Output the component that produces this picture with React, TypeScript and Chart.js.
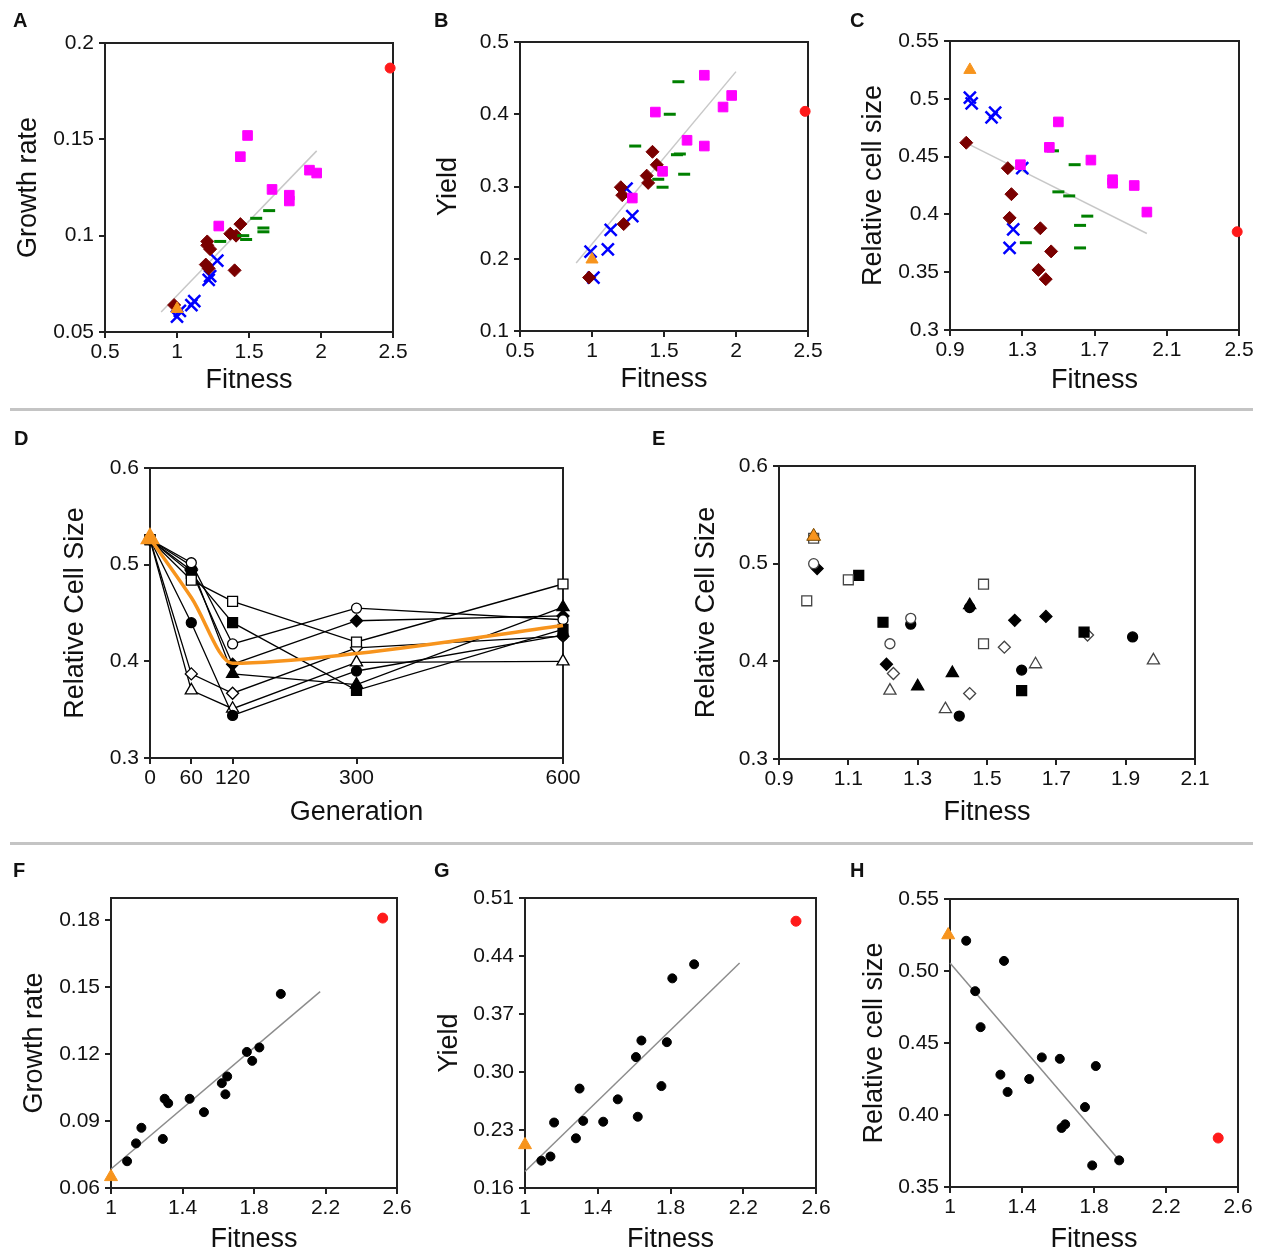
import React, { useEffect, useRef } from "react";
import { Chart, registerables } from "chart.js";
Chart.register(...registerables);

const FONT = "'Liberation Sans', Arial, Helvetica, sans-serif";
type Pt = [number, number];

// ---------- Panel A: Growth rate vs Fitness ----------
const A_RED: Pt[] = [[2.48, 0.187]];
const A_ORANGE: Pt[] = [[1.0, 0.062]];
const A_MAGENTA: Pt[] = [[1.49, 0.152], [1.44, 0.141], [1.92, 0.134], [1.97, 0.1325], [1.66, 0.124], [1.78, 0.121], [1.78, 0.118], [1.29, 0.105]];
const A_DARKRED: Pt[] = [[0.98, 0.064], [1.21, 0.097], [1.23, 0.093], [1.2, 0.085], [1.22, 0.083], [1.37, 0.101], [1.41, 0.1], [1.44, 0.106], [1.4, 0.082], [1.21, 0.095]];
const A_GREEN: Pt[] = [[1.3, 0.097], [1.46, 0.1], [1.48, 0.098], [1.55, 0.109], [1.64, 0.113], [1.6, 0.104], [1.6, 0.102]];
const A_BLUE: Pt[] = [[1.0, 0.058], [1.02, 0.061], [1.1, 0.064], [1.12, 0.066], [1.22, 0.077], [1.23, 0.079], [1.28, 0.087]];
const A_FIT: Pt[] = [[0.89, 0.0604], [1.97, 0.144]];
const A_X_TICKS = [0.5, 1, 1.5, 2, 2.5];
const A_Y_TICKS = [0.05, 0.1, 0.15, 0.2];

// ---------- Panel B: Yield vs Fitness ----------
const B_RED: Pt[] = [[2.48, 0.404]];
const B_ORANGE: Pt[] = [[1.0, 0.199]];
const B_MAGENTA: Pt[] = [[1.78, 0.454], [1.97, 0.426], [1.91, 0.41], [1.44, 0.403], [1.66, 0.364], [1.78, 0.356], [1.49, 0.321], [1.28, 0.284]];
const B_GREEN: Pt[] = [[1.6, 0.445], [1.54, 0.4], [1.3, 0.356], [1.59, 0.344], [1.61, 0.345], [1.64, 0.317], [1.46, 0.31], [1.49, 0.299]];
const B_DARKRED: Pt[] = [[1.42, 0.348], [1.45, 0.33], [1.38, 0.315], [1.39, 0.305], [1.2, 0.299], [1.21, 0.288], [1.22, 0.248], [0.98, 0.174]];
const B_BLUE: Pt[] = [[1.24, 0.297], [1.28, 0.259], [1.13, 0.24], [1.11, 0.213], [0.99, 0.21], [1.01, 0.174]];
const B_FIT: Pt[] = [[0.89, 0.194], [2.0, 0.459]];
const B_X_TICKS = [0.5, 1, 1.5, 2, 2.5];
const B_Y_TICKS = [0.1, 0.2, 0.3, 0.4, 0.5];

// ---------- Panel C: Relative cell size vs Fitness ----------
const C_RED: Pt[] = [[2.49, 0.385]];
const C_ORANGE: Pt[] = [[1.01, 0.525]];
const C_BLUE: Pt[] = [[1.01, 0.501], [1.02, 0.496], [1.15, 0.488], [1.13, 0.484], [1.3, 0.44], [1.25, 0.387], [1.23, 0.371]];
const C_DARKRED: Pt[] = [[0.99, 0.462], [1.22, 0.44], [1.24, 0.4175], [1.23, 0.397], [1.4, 0.388], [1.46, 0.368], [1.39, 0.352], [1.43, 0.344]];
const C_MAGENTA: Pt[] = [[1.5, 0.48], [1.45, 0.458], [1.29, 0.443], [1.68, 0.447], [1.8, 0.43], [1.8, 0.427], [1.92, 0.425], [1.99, 0.402]];
const C_GREEN: Pt[] = [[1.47, 0.455], [1.59, 0.443], [1.5, 0.4195], [1.56, 0.416], [1.66, 0.3985], [1.62, 0.3905], [1.32, 0.3755], [1.62, 0.371]];
const C_FIT: Pt[] = [[1.0, 0.461], [1.99, 0.3835]];
const C_X_TICKS = [0.9, 1.3, 1.7, 2.1, 2.5];
const C_Y_TICKS = [0.3, 0.35, 0.4, 0.45, 0.5, 0.55];

// ---------- Panel D: Relative Cell Size vs Generation ----------
const GENERATIONS = [0, 60, 120, 300, 600];
const D_OPEN_SQUARE = [0.526, 0.484, 0.462, 0.42, 0.48];
const D_FILLED_SQUARE = [0.526, 0.491, 0.44, 0.37, 0.433];
const D_OPEN_CIRCLE = [0.526, 0.502, 0.418, 0.455, 0.443];
const D_FILLED_CIRCLE = [0.526, 0.44, 0.344, 0.39, 0.427];
const D_OPEN_DIAMOND = [0.526, 0.387, 0.367, 0.414, 0.426];
const D_FILLED_DIAMOND = [0.526, 0.494, 0.397, 0.442, 0.447];
const D_OPEN_TRIANGLE = [0.526, 0.37, 0.351, 0.399, 0.4];
const D_FILLED_TRIANGLE = [0.526, 0.499, 0.387, 0.376, 0.456];
const D_ORANGE = [0.527, 0.466, 0.398, 0.408, 0.437];
const D_X_TICKS = [0, 60, 120, 300, 600];
const D_Y_TICKS = [0.3, 0.4, 0.5, 0.6];

// ---------- Panel E: Relative Cell Size vs Fitness ----------
const E_OPEN_SQUARE: Pt[] = [[1.0, 0.526], [0.98, 0.462], [1.1, 0.4835], [1.49, 0.479], [1.49, 0.418]];
const E_FILLED_SQUARE: Pt[] = [[1.13, 0.488], [1.2, 0.44], [1.78, 0.43], [1.6, 0.37]];
const E_OPEN_CIRCLE: Pt[] = [[1.0, 0.5], [1.28, 0.444], [1.22, 0.418]];
const E_FILLED_CIRCLE: Pt[] = [[1.28, 0.438], [1.45, 0.455], [1.92, 0.425], [1.6, 0.391], [1.42, 0.344]];
const E_OPEN_DIAMOND: Pt[] = [[1.79, 0.427], [1.55, 0.4145], [1.23, 0.3875], [1.45, 0.367]];
const E_FILLED_DIAMOND: Pt[] = [[1.01, 0.495], [1.58, 0.442], [1.67, 0.446], [1.21, 0.397]];
const E_OPEN_TRIANGLE: Pt[] = [[1.22, 0.37], [1.38, 0.351], [1.64, 0.397], [1.98, 0.401]];
const E_FILLED_TRIANGLE: Pt[] = [[1.45, 0.4575], [1.3, 0.3745], [1.4, 0.388]];
const E_ORANGE: Pt[] = [[1.0, 0.528]];
const E_X_TICKS = [0.9, 1.1, 1.3, 1.5, 1.7, 1.9, 2.1];
const E_Y_TICKS = [0.3, 0.4, 0.5, 0.6];

// ---------- Panel F ----------
const F_RED: Pt[] = [[2.52, 0.181]];
const F_ORANGE: Pt[] = [[1.0, 0.065]];
const F_POINTS: Pt[] = [[1.09, 0.072], [1.14, 0.08], [1.17, 0.087], [1.29, 0.082], [1.3, 0.1], [1.32, 0.098], [1.44, 0.1], [1.52, 0.094], [1.62, 0.107], [1.64, 0.102], [1.65, 0.11], [1.76, 0.121], [1.79, 0.117], [1.83, 0.123], [1.95, 0.147]];
const F_FIT: Pt[] = [[1.0, 0.0685], [2.17, 0.148]];
const F_X_TICKS = [1, 1.4, 1.8, 2.2, 2.6];
const F_Y_TICKS = [0.06, 0.09, 0.12, 0.15, 0.18];

// ---------- Panel G ----------
const G_RED: Pt[] = [[2.49, 0.482]];
const G_ORANGE: Pt[] = [[1.0, 0.212]];
const G_POINTS: Pt[] = [[1.09, 0.193], [1.14, 0.198], [1.16, 0.239], [1.28, 0.22], [1.3, 0.28], [1.32, 0.241], [1.43, 0.24], [1.51, 0.267], [1.61, 0.318], [1.62, 0.246], [1.64, 0.338], [1.75, 0.283], [1.78, 0.336], [1.81, 0.413], [1.93, 0.43]];
const G_FIT: Pt[] = [[1.0, 0.18], [2.18, 0.4315]];
const G_X_TICKS = [1, 1.4, 1.8, 2.2, 2.6];
const G_Y_TICKS = [0.16, 0.23, 0.3, 0.37, 0.44, 0.51];

// ---------- Panel H ----------
const H_RED: Pt[] = [[2.49, 0.384]];
const H_ORANGE: Pt[] = [[0.99, 0.525]];
const H_POINTS: Pt[] = [[1.09, 0.521], [1.3, 0.507], [1.14, 0.486], [1.17, 0.461], [1.51, 0.44], [1.61, 0.439], [1.81, 0.434], [1.28, 0.428], [1.44, 0.425], [1.32, 0.416], [1.75, 0.4055], [1.64, 0.3935], [1.62, 0.391], [1.79, 0.365], [1.94, 0.3685]];
const H_FIT: Pt[] = [[1.0, 0.5056], [1.94, 0.3685]];
const H_X_TICKS = [1, 1.4, 1.8, 2.2, 2.6];
const H_Y_TICKS = [0.35, 0.4, 0.45, 0.5, 0.55];

// ---------- colours ----------
const RED = "#ff1a1a";
const ORANGE = "#f7941d";
const MAGENTA = "#ff00ff";
const DARKRED = "#7a0000";
const GREEN = "#008000";
const BLUE = "#0000ff";
const INK = "#111111";
const AXIS = "#222222";

interface Geo { left: number; top: number; width: number; height: number; pl: number; pt: number; pr: number; pb: number; yTitlePad: number; xTitlePad: number; }
interface AxisSpec { min: number; max: number; ticks: number[]; dec?: number; title: string; }

const toXY = (a: Pt[]) => a.map(([x, y]) => ({ x, y }));

const framePlugin = {
  id: "frame",
  beforeDatasetsDraw(chart: any) {
    const { ctx, chartArea } = chart;
    const { left, top, right, bottom } = chartArea;
    ctx.save();
    ctx.strokeStyle = AXIS;
    ctx.lineWidth = 2;
    ctx.strokeRect(left, top, right - left, bottom - top);
    ctx.restore();
  },
};

function scale(spec: AxisSpec, isX: boolean, geo: Geo) {
  const size = isX ? geo.top + geo.height - geo.pb : geo.pl - geo.left;
  return {
    type: "linear",
    min: spec.min,
    max: spec.max,
    afterBuildTicks: (ax: any) => { ax.ticks = spec.ticks.map((v) => ({ value: v })); },
    afterFit: (ax: any) => {
      if (isX) ax.height = size; else ax.width = size;
      ax.paddingLeft = 0; ax.paddingRight = 0; ax.paddingTop = 0; ax.paddingBottom = 0;
    },
    ticks: {
      autoSkip: false,
      maxRotation: 0,
      padding: isX ? 2 : 5,
      color: INK,
      font: { family: FONT, size: 21, lineHeight: 1.2 },
      callback: (v: number) => (spec.dec === undefined ? String(v) : v.toFixed(spec.dec)),
    },
    grid: { drawOnChartArea: false, drawTicks: true, tickLength: 6, color: AXIS, lineWidth: 2 },
    border: { display: true, color: AXIS, width: 2 },
    title: {
      display: true,
      text: spec.title,
      color: INK,
      font: { family: FONT, size: 27, lineHeight: 1 },
      padding: isX ? { top: 0, bottom: geo.xTitlePad } : { top: geo.yTitlePad, bottom: 0 },
    },
  };
}

function options(geo: Geo, xs: AxisSpec, ys: AxisSpec) {
  return {
    responsive: false,
    animation: false,
    events: [],
    layout: { padding: { top: geo.pt - geo.top, right: geo.left + geo.width - geo.pr, left: 0, bottom: 0 } },
    plugins: { legend: { display: false }, tooltip: { enabled: false } },
    scales: { x: scale(xs, true, geo), y: scale(ys, false, geo) },
  };
}

function pts(data: Pt[], style: string, color: string, r: number, extra: any = {}) {
  return {
    data: toXY(data),
    pointStyle: style,
    pointRadius: r,
    pointHoverRadius: r,
    pointBackgroundColor: color,
    pointBorderColor: color,
    pointBorderWidth: 1,
    showLine: false,
    clip: false,
    ...extra,
  };
}

function fit(data: Pt[], color: string) {
  return { data: toXY(data), showLine: true, borderColor: color, borderWidth: 1.5, pointRadius: 0, fill: false, order: 10, clip: false };
}

function ChartBox({ geo, make }: { geo: Geo; make: () => any }) {
  const ref = useRef<HTMLCanvasElement>(null);
  useEffect(() => {
    const chart = new Chart(ref.current as HTMLCanvasElement, make());
    return () => chart.destroy();
  }, []);
  return (
    <canvas
      ref={ref}
      width={geo.width}
      height={geo.height}
      style={{ position: "absolute", left: geo.left, top: geo.top, width: geo.width, height: geo.height }}
    />
  );
}

function colouredScatter(geo: Geo, xs: AxisSpec, ys: AxisSpec, s: { red: Pt[]; orange: Pt[]; magenta: Pt[]; darkred: Pt[]; green: Pt[]; blue: Pt[]; fitLine: Pt[] }) {
  return () => ({
    type: "scatter",
    data: {
      datasets: [
        pts(s.red, "circle", RED, 5),
        pts(s.orange, "triangle", ORANGE, 7),
        pts(s.magenta, "rect", MAGENTA, 6.8),
        pts(s.green, "line", GREEN, 6, { pointBorderWidth: 3 }),
        pts(s.darkred, "rectRot", DARKRED, 6.5),
        pts(s.blue, "crossRot", BLUE, 8.5, { pointBorderWidth: 2.5 }),
        fit(s.fitLine, "#c8c8c8"),
      ],
    },
    options: options(geo, xs, ys),
    plugins: [framePlugin],
  });
}

function blackScatter(geo: Geo, xs: AxisSpec, ys: AxisSpec, s: { red: Pt[]; orange: Pt[]; points: Pt[]; fitLine: Pt[] }) {
  return () => ({
    type: "scatter",
    data: {
      datasets: [
        pts(s.red, "circle", RED, 5),
        pts(s.orange, "triangle", ORANGE, 7.5),
        pts(s.points, "circle", "#000000", 4.5),
        fit(s.fitLine, "#8c8c8c"),
      ],
    },
    options: options(geo, xs, ys),
    plugins: [framePlugin],
  });
}

const MARKERS: { style: string; filled: boolean; r: number }[] = [
  { style: "rect", filled: false, r: 7 },
  { style: "rect", filled: true, r: 7 },
  { style: "circle", filled: false, r: 5 },
  { style: "circle", filled: true, r: 5 },
  { style: "rectRot", filled: false, r: 6 },
  { style: "rectRot", filled: true, r: 6 },
  { style: "triangle", filled: false, r: 7 },
  { style: "triangle", filled: true, r: 7 },
];

function lineD(geo: Geo) {
  const series = [D_OPEN_SQUARE, D_FILLED_SQUARE, D_OPEN_CIRCLE, D_FILLED_CIRCLE, D_OPEN_DIAMOND, D_FILLED_DIAMOND, D_OPEN_TRIANGLE, D_FILLED_TRIANGLE];
  return () => ({
    type: "line",
    data: {
      datasets: [
        {
          data: GENERATIONS.map((g, i) => ({ x: g, y: D_ORANGE[i] })),
          borderColor: ORANGE,
          borderWidth: 3.5,
          cubicInterpolationMode: "monotone",
          pointStyle: "triangle",
          pointRadius: [8, 0, 0, 0, 0],
          pointBackgroundColor: ORANGE,
          pointBorderColor: ORANGE,
          order: -1,
          clip: false,
        },
        ...series.map((vals, k) => ({
          data: GENERATIONS.map((g, i) => ({ x: g, y: vals[i] })),
          borderColor: "#000000",
          borderWidth: 1.3,
          tension: 0,
          pointStyle: MARKERS[k].style,
          pointRadius: MARKERS[k].r,
          pointBackgroundColor: MARKERS[k].filled ? "#000000" : "#ffffff",
          pointBorderColor: "#000000",
          pointBorderWidth: 1.3,
          clip: false,
        })),
      ],
    },
    options: options(geo, { min: 0, max: 600, ticks: D_X_TICKS, title: "Generation" }, { min: 0.3, max: 0.6, ticks: D_Y_TICKS, title: "Relative Cell Size" }),
    plugins: [framePlugin],
  });
}

function scatterE(geo: Geo) {
  const series = [E_OPEN_SQUARE, E_FILLED_SQUARE, E_OPEN_CIRCLE, E_FILLED_CIRCLE, E_OPEN_DIAMOND, E_FILLED_DIAMOND, E_OPEN_TRIANGLE, E_FILLED_TRIANGLE];
  return () => ({
    type: "scatter",
    data: {
      datasets: [
        pts(E_ORANGE, "triangle", ORANGE, 8, { pointBorderColor: "#7a4a00", order: -1 }),
        ...series.map((s, k) =>
          pts(s, MARKERS[k].style, MARKERS[k].filled ? "#000000" : "#ffffff", MARKERS[k].r, {
            pointBorderColor: MARKERS[k].filled ? "#000000" : "#444444",
            pointBorderWidth: 1.3,
          })
        ),
      ],
    },
    options: options(geo, { min: 0.9, max: 2.1, ticks: E_X_TICKS, title: "Fitness" }, { min: 0.3, max: 0.6, ticks: E_Y_TICKS, title: "Relative Cell Size" }),
    plugins: [framePlugin],
  });
}

const GEO_A: Geo = { left: 0, top: 0, width: 415, height: 400, pl: 105, pt: 43, pr: 393, pb: 332, yTitlePad: 15, xTitlePad: 6 };
const GEO_B: Geo = { left: 415, top: 0, width: 415, height: 400, pl: 520, pt: 42, pr: 808, pb: 331, yTitlePad: 20, xTitlePad: 7 };
const GEO_C: Geo = { left: 830, top: 0, width: 435, height: 400, pl: 950, pt: 41, pr: 1239, pb: 330, yTitlePad: 30, xTitlePad: 6 };
const GEO_D: Geo = { left: 0, top: 410, width: 630, height: 430, pl: 150, pt: 468, pr: 563, pb: 758, yTitlePad: 62, xTitlePad: 14 };
const GEO_E: Geo = { left: 630, top: 410, width: 635, height: 430, pl: 779, pt: 466, pr: 1195, pb: 759, yTitlePad: 63, xTitlePad: 14 };
const GEO_F: Geo = { left: 0, top: 845, width: 415, height: 411, pl: 111, pt: 898, pr: 397, pb: 1188, yTitlePad: 21, xTitlePad: 3 };
const GEO_G: Geo = { left: 415, top: 845, width: 415, height: 411, pl: 525, pt: 898, pr: 816, pb: 1188, yTitlePad: 21, xTitlePad: 3 };
const GEO_H: Geo = { left: 830, top: 845, width: 435, height: 411, pl: 950, pt: 899, pr: 1238, pb: 1187, yTitlePad: 31, xTitlePad: 3 };

const LETTERS: { t: string; x: number; y: number }[] = [
  { t: "A", x: 13, y: 10 }, { t: "B", x: 434, y: 10 }, { t: "C", x: 850, y: 10 },
  { t: "D", x: 14, y: 428 }, { t: "E", x: 652, y: 428 },
  { t: "F", x: 13, y: 860 }, { t: "G", x: 434, y: 860 }, { t: "H", x: 850, y: 860 },
];

export default function App() {
  return (
    <div style={{ position: "absolute", left: 0, top: 0, width: 1265, height: 1256, background: "#fff", overflow: "hidden", fontFamily: FONT }}>
      <ChartBox geo={GEO_A} make={colouredScatter(GEO_A, { min: 0.5, max: 2.5, ticks: A_X_TICKS, title: "Fitness" }, { min: 0.05, max: 0.2, ticks: A_Y_TICKS, title: "Growth rate" }, { red: A_RED, orange: A_ORANGE, magenta: A_MAGENTA, darkred: A_DARKRED, green: A_GREEN, blue: A_BLUE, fitLine: A_FIT })} />
      <ChartBox geo={GEO_B} make={colouredScatter(GEO_B, { min: 0.5, max: 2.5, ticks: B_X_TICKS, title: "Fitness" }, { min: 0.1, max: 0.5, ticks: B_Y_TICKS, title: "Yield" }, { red: B_RED, orange: B_ORANGE, magenta: B_MAGENTA, darkred: B_DARKRED, green: B_GREEN, blue: B_BLUE, fitLine: B_FIT })} />
      <ChartBox geo={GEO_C} make={colouredScatter(GEO_C, { min: 0.9, max: 2.5, ticks: C_X_TICKS, title: "Fitness" }, { min: 0.3, max: 0.55, ticks: C_Y_TICKS, title: "Relative cell size" }, { red: C_RED, orange: C_ORANGE, magenta: C_MAGENTA, darkred: C_DARKRED, green: C_GREEN, blue: C_BLUE, fitLine: C_FIT })} />
      <ChartBox geo={GEO_D} make={lineD(GEO_D)} />
      <ChartBox geo={GEO_E} make={scatterE(GEO_E)} />
      <ChartBox geo={GEO_F} make={blackScatter(GEO_F, { min: 1, max: 2.6, ticks: F_X_TICKS, title: "Fitness" }, { min: 0.06, max: 0.19, ticks: F_Y_TICKS, dec: 2, title: "Growth rate" }, { red: F_RED, orange: F_ORANGE, points: F_POINTS, fitLine: F_FIT })} />
      <ChartBox geo={GEO_G} make={blackScatter(GEO_G, { min: 1, max: 2.6, ticks: G_X_TICKS, title: "Fitness" }, { min: 0.16, max: 0.51, ticks: G_Y_TICKS, dec: 2, title: "Yield" }, { red: G_RED, orange: G_ORANGE, points: G_POINTS, fitLine: G_FIT })} />
      <ChartBox geo={GEO_H} make={blackScatter(GEO_H, { min: 1, max: 2.6, ticks: H_X_TICKS, title: "Fitness" }, { min: 0.35, max: 0.55, ticks: H_Y_TICKS, dec: 2, title: "Relative cell size" }, { red: H_RED, orange: H_ORANGE, points: H_POINTS, fitLine: H_FIT })} />
      <div style={{ position: "absolute", left: 10, top: 408, width: 1243, height: 3, background: "#c4c4c4" }} />
      <div style={{ position: "absolute", left: 10, top: 842, width: 1243, height: 3, background: "#c4c4c4" }} />
      {LETTERS.map((l) => (
        <div key={l.t} style={{ position: "absolute", left: l.x, top: l.y, fontSize: 20, lineHeight: "20px", fontWeight: "bold", color: "#111" }}>{l.t}</div>
      ))}
    </div>
  );
}
